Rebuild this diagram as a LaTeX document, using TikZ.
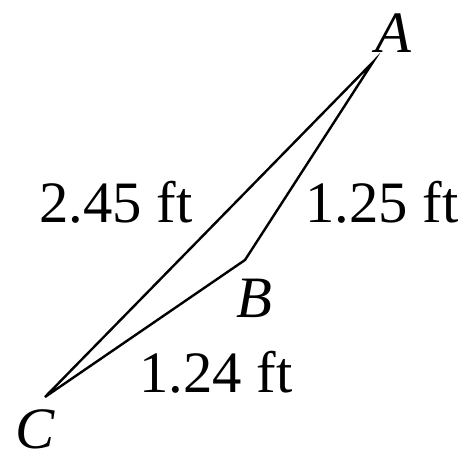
\documentclass[tikz,border=0pt]{standalone}
\usepackage{fontspec}
\setmainfont{Liberation Serif}
\usetikzlibrary{positioning,calc}

\begin{document}
\begin{tikzpicture}[
    x=0.75pt, y=-0.75pt,
    font=\fontsize{44}{50}\selectfont,
    side/.style={line width=1.8pt, line join=miter},
    vlbl/.style={font=\fontsize{44}{50}\selectfont\itshape, inner sep=0pt},
    lenlbl/.style={inner sep=0pt},
]
\useasboundingbox (0,0) rectangle (464,459);
% triangle corners
\coordinate (A) at (373,62);
\coordinate (B) at (245,260);
\coordinate (C) at (45,397);
\draw[side] (A) -- (B) -- (C) -- cycle;
% corner letters
\node[vlbl] (la) at (393,33) {A};
\node[vlbl] (lb) at (254,298) {B};
\node[vlbl] (lc) at (35,429) {C};
% side lengths
\node[lenlbl] (ac) at (116,202) {2.45 ft};
\node[lenlbl] (ab) at (382,202) {1.25 ft};
\node[lenlbl] (bc) at (216,372) {1.24 ft};
\end{tikzpicture}
\end{document}
